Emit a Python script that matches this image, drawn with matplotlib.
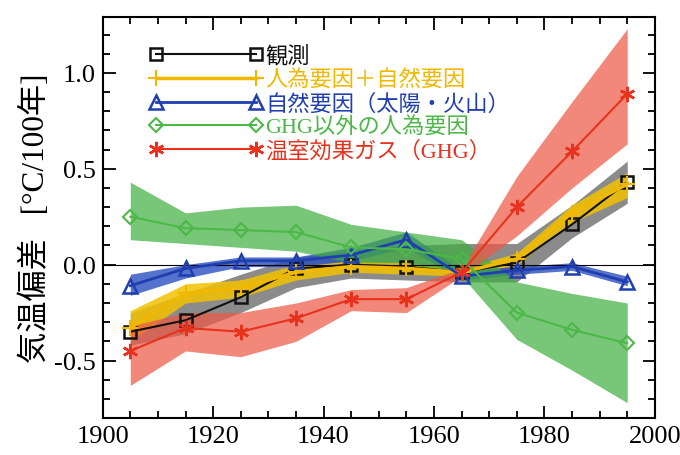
import numpy as np
import matplotlib
matplotlib.use("Agg")
import matplotlib.pyplot as plt
from matplotlib.ticker import MultipleLocator

# Decadal means (centred on 1905, 1915, ... 1995)
years = [1905, 1915, 1925, 1935, 1945, 1955, 1965, 1975, 1985, 1995]

# Observation (black) and its range (gray)
obs = [-0.35, -0.29, -0.17, -0.02, 0.00, -0.01, -0.04, 0.01, 0.21, 0.43]
obs_lo = [-0.42, -0.36, -0.25, -0.12, -0.07, -0.08, -0.09, -0.09, 0.14, 0.32]
obs_hi = [-0.25, -0.15, -0.05, 0.04, 0.07, 0.10, 0.11, 0.11, 0.31, 0.54]

# Anthropogenic + natural (yellow)
all_f = [-0.33, -0.15, -0.12, -0.04, -0.01, -0.02, -0.04, 0.03, 0.27, 0.42]
all_lo = [-0.40, -0.20, -0.17, -0.08, -0.04, -0.05, -0.06, 0.00, 0.22, 0.35]
all_hi = [-0.24, -0.10, -0.08, 0.00, 0.02, 0.01, -0.02, 0.06, 0.31, 0.48]

# Natural: solar + volcanic (blue)
nat = [-0.11, -0.02, 0.02, 0.02, 0.05, 0.13, -0.06, -0.03, -0.01, -0.09]
nat_lo = [-0.16, -0.07, -0.01, -0.01, 0.02, 0.09, -0.08, -0.05, -0.03, -0.11]
nat_hi = [-0.05, 0.00, 0.04, 0.04, 0.09, 0.17, -0.03, -0.01, 0.01, -0.06]

# Anthropogenic other than GHG (green)
oth = [0.25, 0.19, 0.18, 0.17, 0.09, 0.08, 0.03, -0.25, -0.34, -0.41]
oth_lo = [0.13, 0.11, 0.09, 0.07, 0.01, 0.01, -0.06, -0.39, -0.55, -0.72]
oth_hi = [0.43, 0.27, 0.30, 0.31, 0.21, 0.17, 0.13, -0.09, -0.15, -0.20]

# Greenhouse gases (red)
ghg = [-0.45, -0.33, -0.35, -0.28, -0.18, -0.18, -0.04, 0.30, 0.59, 0.89]
ghg_lo = [-0.63, -0.45, -0.48, -0.40, -0.24, -0.25, -0.06, 0.15, 0.40, 0.63]
ghg_hi = [-0.32, -0.25, -0.25, -0.20, -0.13, -0.12, -0.02, 0.46, 0.85, 1.23]

labels = ["観測", "人為要因＋自然要因", "自然要因（太陽・火山）",
          "GHG以外の人為要因", "温室効果ガス（GHG）"]

fonts = ["Liberation Serif", "Noto Sans CJK JP", "DejaVu Sans"]
plt.rcParams["font.family"] = fonts

fig = plt.figure(figsize=(6.8, 4.56), dpi=100)
ax = fig.add_axes([0.151, 0.081, 0.812, 0.879])

# shaded ranges
ax.fill_between(years, obs_lo, obs_hi, color="#6e6e6e", alpha=0.8, lw=0)
ax.fill_between(years, all_lo, all_hi, color="#f2c200", alpha=0.85, lw=0)
ax.fill_between(years, nat_lo, nat_hi, color="#2a4fc0", alpha=0.8, lw=0)
ax.fill_between(years, oth_lo, oth_hi, color="#3fae3f", alpha=0.7, lw=0)
ax.fill_between(years, ghg_lo, ghg_hi, color="#ee5a46", alpha=0.72, lw=0)

ax.axhline(0, color="black", lw=0.8, zorder=1)

ax.plot(years, obs, color="#111111", lw=1.5, marker="s", ms=9, mfc="none",
        mew=1.8, label=labels[0])
ax.plot(years, all_f, color="#f0b800", lw=2.5, marker="+", ms=11, mew=1.5,
        label=labels[1])
ax.plot(years, nat, color="#1f3fb0", lw=2, marker="^", ms=10, mfc="none",
        mew=1.8, label=labels[2])
ax.plot(years, oth, color="#4cb848", lw=1.5, marker="D", ms=7.5, mfc="none",
        mew=1.5, label=labels[3])
ax.plot(years, ghg, color="#e8321e", lw=1.5, marker=(6, 2, 0), ms=11,
        mew=1.8, label=labels[4])

ax.set_xlim(1900, 2000)
ax.set_ylim(-0.8, 1.29)
ax.xaxis.set_major_locator(MultipleLocator(20))
ax.xaxis.set_minor_locator(MultipleLocator(5))
ax.yaxis.set_major_locator(MultipleLocator(0.5))
ax.yaxis.set_minor_locator(MultipleLocator(0.1))
ax.yaxis.set_major_formatter(matplotlib.ticker.FormatStrFormatter("%.1f"))
ax.tick_params(which="both", direction="in", top=True, right=True,
               labelsize=19, width=1.3)
ax.tick_params(which="major", length=9, pad=5)
ax.tick_params(which="minor", length=5)
for s in ax.spines.values():
    s.set_linewidth(1.5)

ax.set_ylabel("気温偏差   [°C/100年]", fontsize=22.5, labelpad=2)

leg = ax.legend(loc="upper left", bbox_to_anchor=(0.085, 0.93), frameon=False,
                numpoints=2, handlelength=5.1, handletextpad=0.1,
                labelspacing=0.12, fontsize=16, borderpad=0, borderaxespad=0)
for txt, line in zip(leg.get_texts(), leg.get_lines()):
    txt.set_color(line.get_color())

fig.savefig("out.png", dpi=100)
